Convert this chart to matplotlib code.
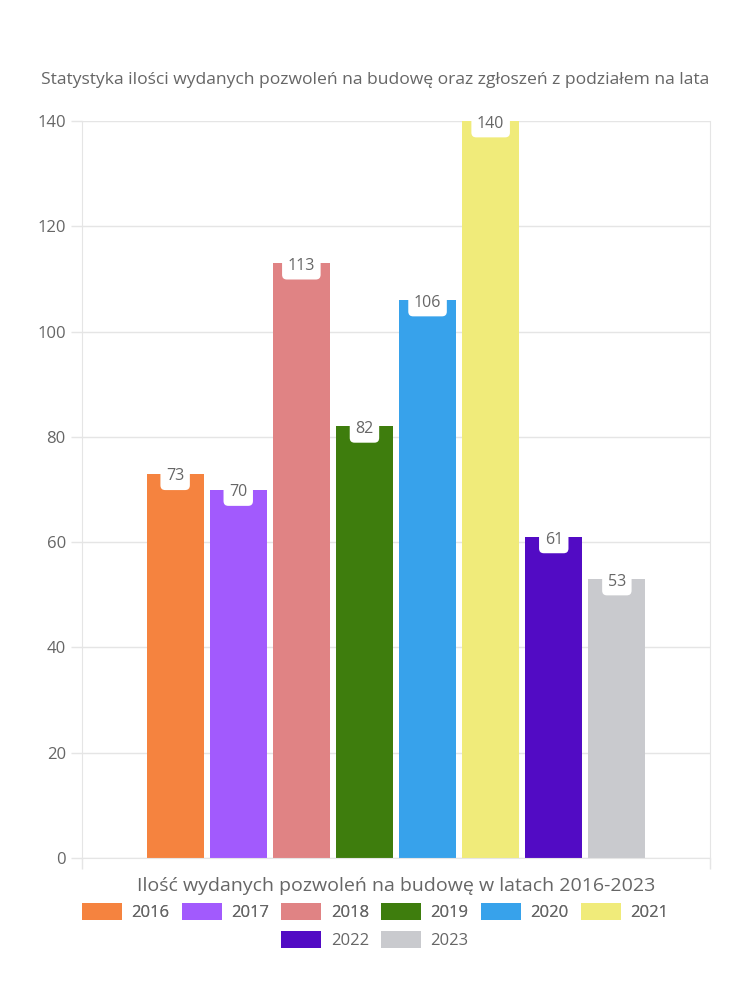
import matplotlib.pyplot as plt
import numpy as np

plt.rcParams['font.family'] = ['Open Sans', 'DejaVu Sans']

# data
years = ['2016', '2017', '2018', '2019', '2020', '2021', '2022', '2023']
permits = [73, 70, 113, 82, 106, 140, 61, 53]
colors = ['#F5833F', '#A25AFD', '#E08384', '#3E7D0D', '#37A2EB', '#F0EB7A', '#520BC4', '#C9CACE']

TEXT = '#666666'
GRID = '#e5e5e5'

fig = plt.figure(figsize=(7.5, 10), dpi=100)
ax = fig.add_axes([0.109, 0.142, 0.838, 0.737])

x = np.arange(len(years))
bars = ax.bar(x, permits, width=0.9, color=colors, label=years, zorder=2)

for xi, v in zip(x, permits):
    ax.annotate(str(v), (xi, v), xytext=(0, -2), textcoords='offset points',
                ha='center', va='center', fontsize=11.5, color=TEXT, zorder=3,
                bbox=dict(boxstyle='round,pad=0.35,rounding_size=0.3', fc='white', ec='none'))

xlo, xhi = 3.5 - 4.98, 3.5 + 4.98
ax.set_ylim(0, 140)
ax.set_xlim(xlo, xhi)
ax.set_yticks(range(0, 141, 20))
ax.set_xticks([xlo, xhi], ['', ''])
ax.tick_params(axis='y', labelsize=12, colors=GRID, labelcolor=TEXT, length=8, width=1)
ax.tick_params(axis='x', colors=GRID, length=8, width=1)
ax.grid(axis='y', color=GRID, linewidth=1, zorder=0)
for s in ax.spines.values():
    s.set_color(GRID)
ax.spines['top'].set_visible(False)

ax.set_xlabel('Ilość wydanych pozwoleń na budowę w latach 2016-2023',
              fontsize=14, color=TEXT, labelpad=2)
fig.text(0.5, 0.92, 'Statystyka ilości wydanych pozwoleń na budowę oraz zgłoszeń z podziałem na lata',
         ha='center', va='center', fontsize=12.6, color=TEXT)

# legend laid out row by row: 6 entries, then 2
leg_kw = dict(frameon=False, fontsize=12, labelcolor=TEXT, handlelength=2.4, handleheight=1.2,
              columnspacing=0.75, handletextpad=0.55, borderpad=0)
leg1 = fig.legend(bars[:6], years[:6], loc='center', bbox_to_anchor=(0.5, 0.088), ncol=6, **leg_kw)
fig.add_artist(leg1)
fig.legend(bars[6:], years[6:], loc='center', bbox_to_anchor=(0.5, 0.06), ncol=2, **leg_kw)

fig.savefig('out.png', dpi=100, facecolor='white')
